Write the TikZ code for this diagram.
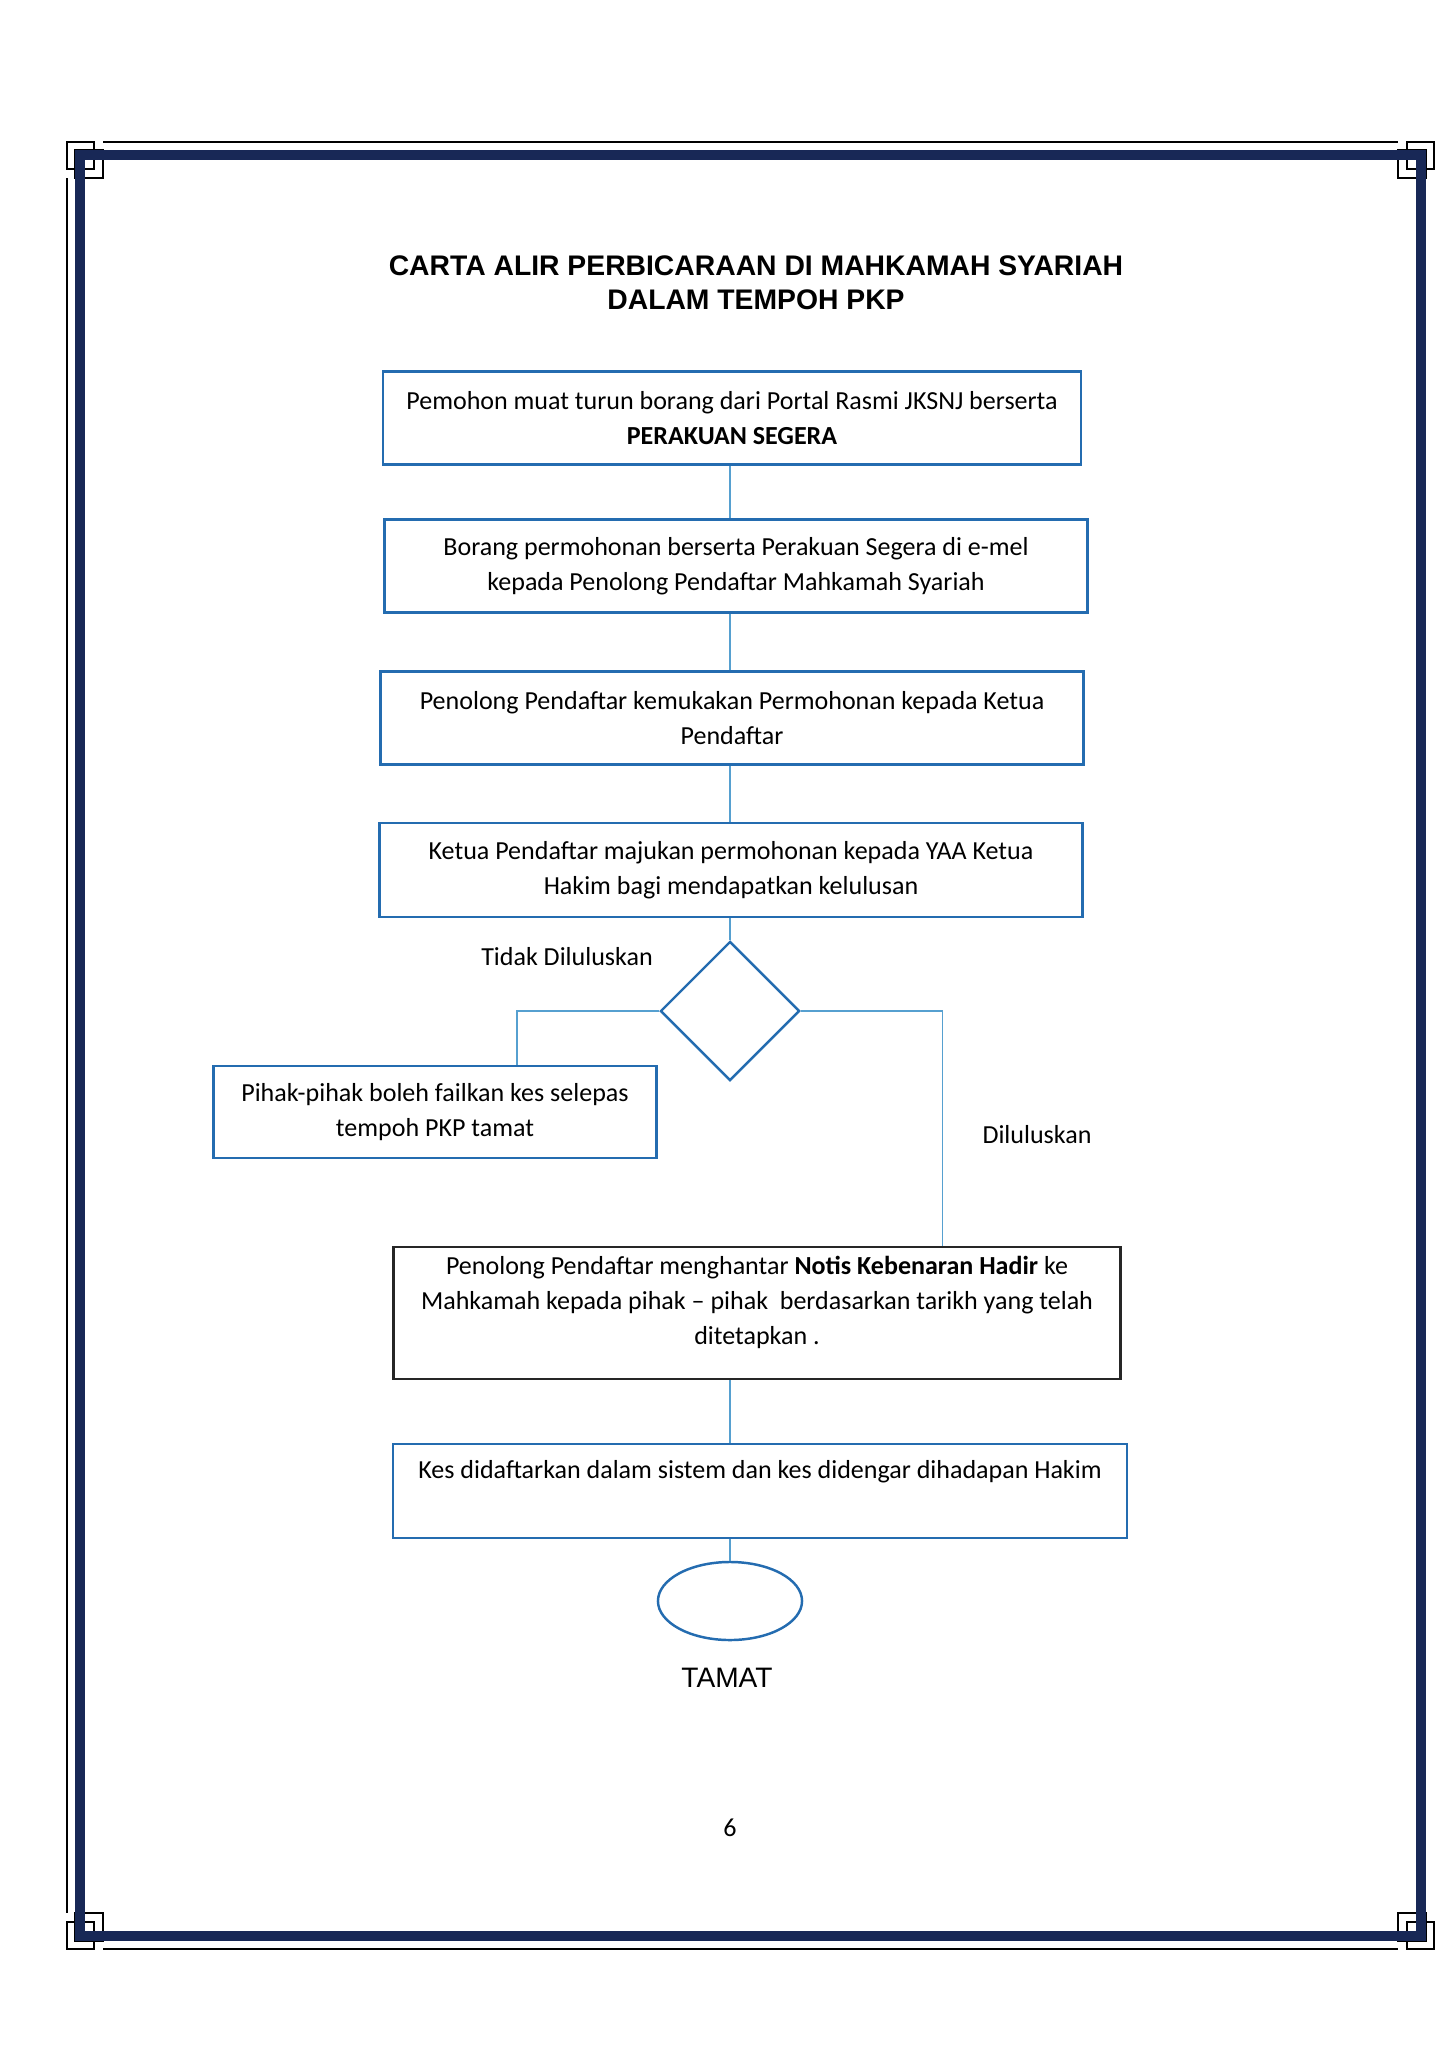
\documentclass[tikz,border=0pt]{standalone}
\usepackage{fontspec}
\setmainfont{Carlito}
\newfontfamily\headfont{Liberation Sans}
\usepackage{tikz}
\usetikzlibrary{calc,positioning,shapes.geometric}
\definecolor{framenavy}{RGB}{24,40,86}
\definecolor{boxblue}{RGB}{36,108,176}
\definecolor{lineblue}{RGB}{86,160,208}

\begin{document}
\begin{tikzpicture}[
    x=0.01cm, y=-0.01cm,%一个单位约等于扫描图的一个像素
    font=\fontsize{7.4}{10}\selectfont,
    stepbox/.style={
        % The shape:
        rectangle,
        minimum height=0.93cm,
        inner sep=0pt,
        % The border
        draw=boxblue,
        line width=0.7pt,
        align=center},
    decide/.style={
        diamond, minimum size=1.39cm, inner sep=0pt,
        draw=boxblue, line width=0.7pt},
    endmark/.style={
        ellipse, minimum width=1.44cm, minimum height=0.78cm,
        draw=boxblue, line width=0.7pt},
    flow/.style={draw=lineblue, line width=0.45pt},
    thinframe/.style={draw=black, line width=0.6pt},
    framebar/.style={draw=framenavy, line width=2.9pt}]%页面边框
  \fill[white] (0,0) rectangle (1447,2047);
  \foreach \cx/\cy/\sx/\sy in {80/155/1/1, 1421/155/-1/1, 80/1936/1/-1, 1421/1936/-1/-1}
    \draw[thinframe, shift={(\cx,\cy)}, xscale=\sx, yscale=\sy]
      (-13,-13) rectangle (14,14) (-5,-5) rectangle (23,23);
  \draw[thinframe] (103,142) -- (1398,142);
  \draw[thinframe] (67,178) -- (67,1913);
  \draw[thinframe] (103,1949) -- (1398,1949);
  \draw[framebar] (80,155) rectangle (1421,1936);
  % 标题
  \node (title) at (756,283) [font=\headfont\bfseries\fontsize{8.05}{9.8}\selectfont, align=center]
    {CARTA ALIR PERBICARAAN DI MAHKAMAH SYARIAH\\DALAM TEMPOH PKP};
  % 流程
  \node (apply) at (732,418) [stepbox, minimum width=6.98cm]
    {Pemohon muat turun borang dari Portal Rasmi JKSNJ berserta\\\textbf{PERAKUAN SEGERA}};
  \node (email) at (736,566) [stepbox, minimum width=7.03cm]
    {Borang permohonan berserta Perakuan Segera di e-mel\\kepada Penolong Pendaftar Mahkamah Syariah};
  \node (submit) at (732,718) [stepbox, minimum width=7.03cm]
    {Penolong Pendaftar kemukakan Permohonan kepada Ketua\\Pendaftar};
  \node (forward) at (731,870) [stepbox, minimum width=7.03cm, minimum height=0.94cm]
    {Ketua Pendaftar majukan permohonan kepada YAA Ketua\\Hakim bagi mendapatkan kelulusan};
  \node (decision) at (730,1011) [decide] {};
  \node (rejected) at (435,1112) [stepbox, minimum width=4.43cm, minimum height=0.92cm]
    {Pihak-pihak boleh failkan kes selepas\\tempoh PKP tamat};
  \node (notice) at (757,1313) [stepbox, draw=black!85, minimum width=7.27cm, minimum height=1.32cm, text depth=7.3pt]
    {Penolong Pendaftar menghantar \textbf{Notis Kebenaran Hadir} ke\\Mahkamah kepada pihak -- pihak\ \ berdasarkan tarikh yang telah\\ditetapkan .};
  \node (register) at (760,1491) [stepbox, minimum width=7.34cm, minimum height=0.94cm, text depth=12pt]
    {Kes didaftarkan dalam sistem dan kes didengar dihadapan Hakim};
  \node (finish) at (730,1601) [endmark] {};
  \node (tamat) at (727,1678) [font=\headfont\fontsize{8}{9.6}\selectfont] {TAMAT};
  % 标签
  \node (nolabel) at (567,957) {Tidak Diluluskan};
  \node (yeslabel) at (1037,1135) {Diluluskan};
  \node (page) at (730,1828) {6};
  % 连线
  \draw[flow] (apply.south -| decision) -- (email.north -| decision);
  \draw[flow] (email.south -| decision) -- (submit.north -| decision);
  \draw[flow] (submit.south -| decision) -- (forward.north -| decision);
  \draw[flow] (forward.south -| decision) -- (decision.north);
  \draw[flow] (decision.west) -| ($(rejected.north west)!0.684!(rejected.north east)$);
  \draw[flow] (decision.east) -| ($(notice.north west)!0.754!(notice.north east)$);
  \draw[flow] (notice.south -| decision) -- (register.north -| decision);
  \draw[flow] (register.south -| decision) -- (finish.north);
\end{tikzpicture}
\end{document}
